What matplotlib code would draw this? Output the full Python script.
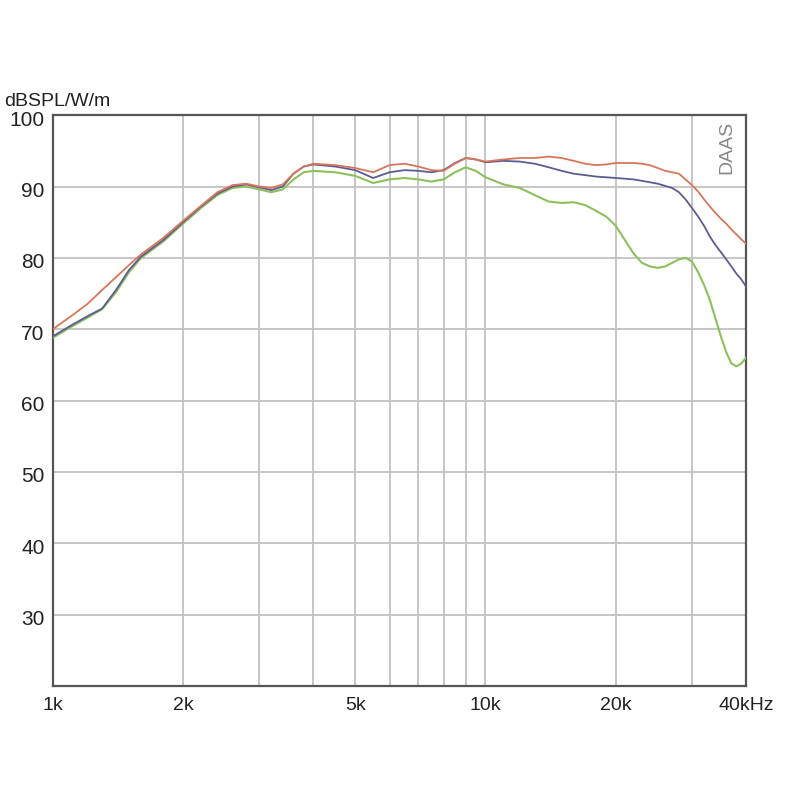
import matplotlib
matplotlib.use("Agg")
import matplotlib.pyplot as plt
import matplotlib.transforms as mtransforms
from matplotlib import font_manager

freq_khz = [1.0, 1.1, 1.2, 1.3, 1.4, 1.5, 1.6, 1.8, 2.0, 2.2, 2.4, 2.6, 2.8, 3.0, 3.2, 3.4, 3.6, 3.8,
            4.0, 4.5, 5.0, 5.5, 6.0, 6.5, 7.0, 7.5, 8.0, 8.5, 9.0, 9.5, 10, 11, 12, 13, 14, 15, 16, 17,
            18, 19, 20, 21, 22, 23, 24, 25, 26, 27, 28, 29, 30, 31, 32, 33, 34, 35, 36, 37, 38, 39, 40]

red_db = [70.0, 71.8, 73.5, 75.5, 77.3, 79.0, 80.5, 82.8, 85.2, 87.3, 89.2, 90.2, 90.4, 90.0, 89.8, 90.3,
          91.8, 92.8, 93.2, 93.0, 92.6, 92.0, 93.0, 93.2, 92.8, 92.3, 92.2, 93.2, 94.0, 93.8, 93.5, 93.8,
          94.0, 94.0, 94.2, 94.0, 93.6, 93.2, 93.0, 93.1, 93.3, 93.3, 93.3, 93.2, 93.0, 92.6, 92.2, 92.0,
          91.8, 91.0, 90.2, 89.3, 88.2, 87.2, 86.3, 85.5, 84.8, 84.0, 83.3, 82.6, 82.0]

blue_db = [69.0, 70.5, 71.8, 72.9, 75.5, 78.3, 80.2, 82.5, 85.0, 87.2, 89.0, 90.0, 90.3, 89.9, 89.5, 90.0,
           91.8, 92.8, 93.1, 92.8, 92.3, 91.2, 92.0, 92.3, 92.2, 92.0, 92.3, 93.3, 94.0, 93.8, 93.4, 93.6,
           93.5, 93.2, 92.7, 92.2, 91.8, 91.6, 91.4, 91.3, 91.2, 91.1, 91.0, 90.8, 90.6, 90.4, 90.1, 89.8,
           89.2, 88.2, 87.0, 85.8, 84.5, 83.0, 81.8, 80.8, 79.8, 78.8, 77.8, 77.0, 76.0]

green_db = [68.8, 70.3, 71.6, 72.8, 75.2, 78.0, 80.0, 82.3, 84.8, 87.0, 88.8, 89.8, 90.0, 89.6, 89.2, 89.6,
            91.0, 92.0, 92.2, 92.0, 91.5, 90.5, 91.0, 91.2, 91.0, 90.7, 91.0, 92.0, 92.7, 92.2, 91.3, 90.3,
            89.8, 88.8, 87.9, 87.7, 87.8, 87.4, 86.6, 85.8, 84.5, 82.5, 80.6, 79.3, 78.8, 78.6, 78.8, 79.3,
            79.8, 80.0, 79.5, 78.0, 76.2, 74.1, 71.5, 69.0, 66.8, 65.2, 64.8, 65.2, 66.0]

x_ticks_khz = [1, 2, 5, 10, 20, 40]
x_tick_labels = ["1k", "2k", "5k", "10k", "20k", "40kHz"]
x_grid_khz = [2, 3, 4, 5, 6, 7, 8, 9, 10, 20, 30]
y_ticks = [30, 40, 50, 60, 70, 80, 90, 100]
y_label = "dBSPL/W/m"
brand = "DAAS"

names = {f.name for f in font_manager.fontManager.ttflist}
fam = "Liberation Sans Narrow" if "Liberation Sans Narrow" in names else "Liberation Sans"
plt.rcParams['font.family'] = [fam, 'DejaVu Sans']

fig = plt.figure(figsize=(8, 8), dpi=100)
ax = fig.add_axes([0.066, 0.1425, 0.8665, 0.7135])
ax.set_xscale('log')
ax.set_xlim(1, 40)
ax.set_ylim(20, 100)

for g in x_grid_khz:
    ax.axvline(g, color='#c2c2c2', lw=1.3, zorder=1)
for yv in y_ticks[:-1]:
    ax.axhline(yv, color='#c2c2c2', lw=1.3, zorder=1)

ax.plot(freq_khz, green_db, color='#8cc05c', lw=1.5, zorder=3)
ax.plot(freq_khz, blue_db, color='#5c5c92', lw=1.3, zorder=4)
ax.plot(freq_khz, red_db, color='#d8765c', lw=1.3, zorder=5)

ax.set_xticks(x_ticks_khz)
ax.set_xticklabels(x_tick_labels)
ax.xaxis.set_minor_locator(matplotlib.ticker.NullLocator())
ax.set_yticks(y_ticks)
ax.set_yticklabels([str(v) for v in y_ticks])
ax.tick_params(axis='x', length=0, labelsize=14, colors='#222222', pad=8)
ax.tick_params(axis='y', length=0, labelsize=15, colors='#222222', pad=6)
offset = mtransforms.ScaledTranslation(0, -3 / 100, fig.dpi_scale_trans)
for lbl in ax.get_yticklabels():
    lbl.set_transform(lbl.get_transform() + offset)

for sp in ax.spines.values():
    sp.set_color('#555555')
    sp.set_linewidth(1.6)

fig.text(0.005, 0.868, y_label, fontsize=14, color='#222222', ha='left', va='baseline')
ax.text(0.985, 0.99, brand, transform=ax.transAxes, rotation=90, ha='right', va='top',
        fontsize=14, color='#888888')

fig.savefig('out.png', dpi=100, facecolor='white')
